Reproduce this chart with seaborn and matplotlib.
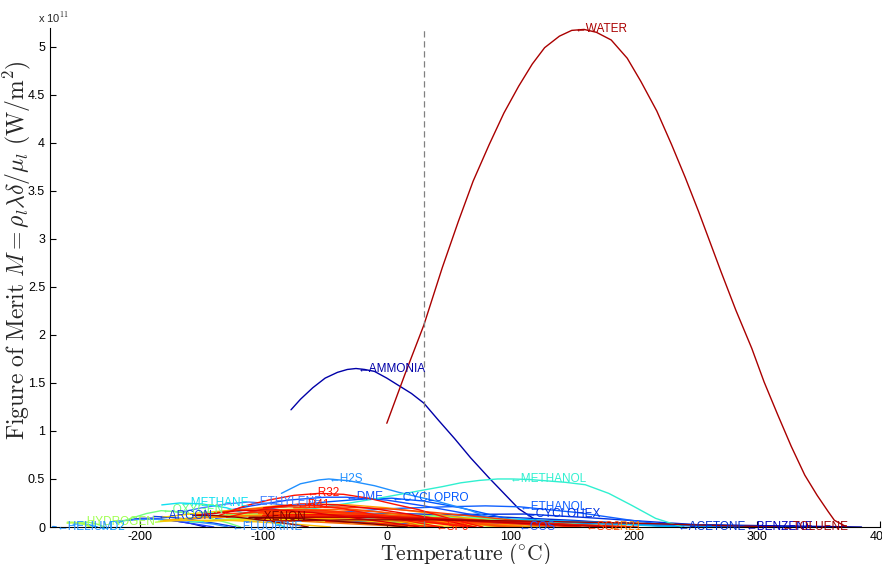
import numpy as np
import pandas as pd
import seaborn as sns
import matplotlib
matplotlib.use('Agg')
import matplotlib.pyplot as plt
from matplotlib.ticker import FormatStrFormatter

# Figure of merit M in units of 1e11 W/m^2, temperature in deg C
water_T = [0.01, 15, 30, 45, 58, 70, 83, 95, 107, 118, 128, 140, 150, 160, 170, 182, 195,
           206, 219, 231, 242, 253, 262, 271, 283, 296, 306, 317, 328, 339, 349, 358, 363, 373]
water_M = [1.08, 1.60, 2.10, 2.70, 3.18, 3.60, 3.98, 4.31, 4.59, 4.82, 4.99, 5.11, 5.17, 5.18,
           5.15, 5.07, 4.88, 4.64, 4.33, 3.98, 3.64, 3.28, 2.97, 2.66, 2.26, 1.86, 1.51, 1.17,
           0.84, 0.54, 0.33, 0.16, 0.07, 0.0]

ammonia_T = [-77.7, -70, -60, -50, -40, -32, -25, -18, -10, 0, 10, 20, 30, 42, 55, 68, 83, 95, 107, 120, 132.3]
ammonia_M = [1.22, 1.33, 1.45, 1.55, 1.61, 1.64, 1.65, 1.64, 1.62, 1.55, 1.47, 1.39, 1.29, 1.11, 0.92, 0.72,
             0.51, 0.35, 0.19, 0.08, 0.0]

methanol_T = [-97.5, -60, -30, -6.5, 15, 30, 45, 60, 75, 90, 101, 115, 130, 145, 161, 180, 198, 218, 240]
methanol_M = [0.12, 0.19, 0.25, 0.30, 0.35, 0.385, 0.42, 0.46, 0.485, 0.50, 0.50, 0.495, 0.48, 0.465, 0.44,
              0.35, 0.23, 0.09, 0.0]

h2s_T = [-85.5, -70, -55, -47, -30, -10, 10, 40, 66, 85, 100]
h2s_M = [0.35, 0.45, 0.49, 0.50, 0.48, 0.43, 0.36, 0.27, 0.18, 0.09, 0.0]

ethanol_T = [-114, -80, -40, 0, 47, 80, 108, 155, 198, 241]
ethanol_M = [0.05, 0.10, 0.15, 0.19, 0.21, 0.22, 0.21, 0.15, 0.07, 0.0]

dme_T = [-141.5, -110, -80, -50, -33, 0, 30, 60, 90, 127]
dme_M = [0.14, 0.22, 0.28, 0.31, 0.31, 0.28, 0.22, 0.15, 0.08, 0.0]

cyclopro_T = [-127.5, -90, -50, -20, 4, 30, 60, 90, 125]
cyclopro_M = [0.12, 0.20, 0.26, 0.29, 0.30, 0.27, 0.20, 0.11, 0.0]

r32_T = [-136, -115, -96, -75, -55, -35, -15, 5, 26, 45, 62, 78]
r32_M = [0.12, 0.22, 0.28, 0.33, 0.35, 0.34, 0.30, 0.24, 0.18, 0.11, 0.05, 0.0]

r41_T = [-130, -110, -90, -73, -55, -35, -15, 10, 44]
r41_M = [0.10, 0.16, 0.21, 0.23, 0.22, 0.19, 0.14, 0.08, 0.0]

xenon_T = [-111.8, -95, -75, -50, -25, 0, 16.6]
xenon_M = [0.10, 0.10, 0.09, 0.07, 0.045, 0.02, 0.0]

oxygen_T = [-218.8, -205, -195, -183, -170, -155, -140, -128, -118.6]
oxygen_M = [0.04, 0.10, 0.14, 0.17, 0.16, 0.13, 0.08, 0.04, 0.0]

hydrogen_T = [-259.2, -255, -250, -245, -240]
hydrogen_M = [0.05, 0.05, 0.045, 0.03, 0.0]

parahyd_T = [-259.3, -252, -246, -240.2]
parahyd_M = [0.04, 0.045, 0.03, 0.0]

helium_T = [-271, -269.5, -268]
helium_M = [0.005, 0.004, 0.0]

d2_T = [-254.4, -248, -242, -234.8]
d2_M = [0.03, 0.035, 0.025, 0.0]

neon_T = [-248.6, -242, -235, -228.7]
neon_M = [0.05, 0.05, 0.03, 0.0]

nitrogen_T = [-210, -200, -190, -175, -160, -147]
nitrogen_M = [0.07, 0.09, 0.09, 0.07, 0.04, 0.0]

argon_T = [-189.3, -175, -160, -140, -122.5]
argon_M = [0.11, 0.10, 0.08, 0.04, 0.0]

co_T = [-205, -190, -170, -150, -140.3]
co_M = [0.08, 0.09, 0.06, 0.02, 0.0]

fluorine_T = [-219.6, -200, -180, -160, -140, -129]
fluorine_M = [0.06, 0.08, 0.08, 0.06, 0.03, 0.0]

methane_T = [-182.5, -168, -150, -130, -110, -95, -82.6]
methane_M = [0.23, 0.25, 0.24, 0.20, 0.12, 0.06, 0.0]

ethylene_T = [-169, -150, -130, -112, -90, -60, -30, 0, 9.2]
ethylene_M = [0.15, 0.20, 0.24, 0.26, 0.24, 0.18, 0.10, 0.03, 0.0]

ethane_T = [-182.8, -150, -120, -90, -60, -30, 0, 32.2]
ethane_M = [0.10, 0.15, 0.18, 0.17, 0.14, 0.09, 0.04, 0.0]

propane_T = [-187.6, -150, -110, -70, -30, 10, 50, 96.7]
propane_M = [0.05, 0.10, 0.13, 0.14, 0.12, 0.09, 0.05, 0.0]

propylene_T = [-185.2, -140, -100, -60, -20, 20, 60, 91]
propylene_M = [0.06, 0.12, 0.15, 0.15, 0.13, 0.09, 0.04, 0.0]

isobutane_T = [-159.6, -120, -70, -20, 30, 80, 134.7]
isobutane_M = [0.05, 0.09, 0.12, 0.12, 0.10, 0.06, 0.0]

butane_T = [-138.3, -90, -40, 10, 60, 110, 152]
butane_M = [0.07, 0.11, 0.13, 0.13, 0.10, 0.05, 0.0]

pentane_T = [-129.7, -80, -30, 20, 70, 130, 196.6]
pentane_M = [0.07, 0.10, 0.12, 0.12, 0.10, 0.05, 0.0]

hexane_T = [-95.3, -50, 0, 50, 110, 170, 234.7]
hexane_M = [0.08, 0.10, 0.11, 0.10, 0.08, 0.04, 0.0]

heptane_T = [-90.6, -40, 20, 80, 150, 210, 267]
heptane_M = [0.07, 0.08, 0.09, 0.08, 0.06, 0.03, 0.0]

octane_T = [-56.8, 0, 60, 130, 200, 250, 296]
octane_M = [0.06, 0.07, 0.07, 0.06, 0.04, 0.02, 0.0]

nonane_T = [-53.5, 20, 100, 180, 250, 321]
nonane_M = [0.05, 0.06, 0.055, 0.04, 0.02, 0.0]

decane_T = [-29.6, 40, 120, 200, 280, 344.5]
decane_M = [0.05, 0.05, 0.045, 0.03, 0.015, 0.0]

dodecane_T = [-9.6, 60, 140, 220, 300, 385]
dodecane_M = [0.04, 0.045, 0.04, 0.03, 0.015, 0.0]

acetone_T = [-94.7, -50, 0, 50, 100, 150, 200, 235]
acetone_M = [0.10, 0.13, 0.14, 0.13, 0.10, 0.07, 0.03, 0.0]

benzene_T = [5.5, 60, 120, 180, 240, 289]
benzene_M = [0.08, 0.08, 0.065, 0.045, 0.02, 0.0]

toluene_T = [-95, -30, 40, 120, 200, 270, 318.6]
toluene_M = [0.06, 0.075, 0.075, 0.06, 0.04, 0.015, 0.0]

cyclohex_T = [6.5, 50, 112, 160, 220, 280.5]
cyclohex_M = [0.11, 0.13, 0.135, 0.10, 0.05, 0.0]

cos_T = [-138.8, -100, -60, -20, 20, 60, 105.6]
cos_M = [0.09, 0.14, 0.16, 0.15, 0.11, 0.06, 0.0]

so2_T = [-75.5, -40, 0, 40, 80, 120, 157.5]
so2_M = [0.20, 0.21, 0.19, 0.15, 0.10, 0.05, 0.0]

r21_T = [-135, -90, -40, 10, 60, 120, 178.3]
r21_M = [0.10, 0.13, 0.13, 0.11, 0.08, 0.04, 0.0]

sf6_T = [-49.6, -30, -10, 10, 30, 45.6]
sf6_M = [0.06, 0.05, 0.04, 0.025, 0.01, 0.0]

r134a_T = [-103.3, -70, -40, -10, 20, 50, 80, 101]
r134a_M = [0.15, 0.18, 0.18, 0.16, 0.12, 0.08, 0.03, 0.0]

r125_T = [-100.6, -70, -40, -10, 20, 45, 66]
r125_M = [0.12, 0.13, 0.12, 0.10, 0.07, 0.03, 0.0]

r143a_T = [-111.8, -80, -50, -20, 10, 40, 72.7]
r143a_M = [0.15, 0.18, 0.17, 0.14, 0.10, 0.05, 0.0]

r152a_T = [-118.6, -90, -60, -30, 0, 30, 60, 90, 113.3]
r152a_M = [0.18, 0.22, 0.24, 0.23, 0.20, 0.15, 0.10, 0.05, 0.0]

r22_T = [-157.4, -120, -80, -40, 0, 40, 70, 96.1]
r22_M = [0.12, 0.18, 0.21, 0.20, 0.15, 0.09, 0.04, 0.0]

r23_T = [-155.1, -120, -90, -60, -30, 0, 26.1]
r23_M = [0.12, 0.17, 0.18, 0.15, 0.10, 0.05, 0.0]

r13_T = [-181, -150, -120, -90, -60, -20, 28.9]
r13_M = [0.07, 0.10, 0.12, 0.11, 0.08, 0.04, 0.0]

r14_T = [-183.6, -160, -130, -100, -70, -45.6]
r14_M = [0.06, 0.07, 0.07, 0.05, 0.025, 0.0]

r116_T = [-100, -70, -40, -10, 19.9]
r116_M = [0.07, 0.06, 0.04, 0.02, 0.0]

r11_T = [-111, -60, -10, 40, 100, 150, 198]
r11_M = [0.10, 0.11, 0.10, 0.08, 0.05, 0.025, 0.0]

r12_T = [-157, -110, -60, -10, 40, 80, 112]
r12_M = [0.09, 0.12, 0.12, 0.10, 0.06, 0.03, 0.0]

r123_T = [-107, -60, -10, 40, 90, 140, 183.7]
r123_M = [0.09, 0.10, 0.10, 0.08, 0.05, 0.02, 0.0]

r245fa_T = [-102, -60, -20, 20, 60, 110, 154]
r245fa_M = [0.10, 0.11, 0.11, 0.09, 0.06, 0.03, 0.0]

r227ea_T = [-126.8, -90, -50, -10, 30, 70, 101.8]
r227ea_M = [0.07, 0.08, 0.08, 0.06, 0.04, 0.02, 0.0]

r218_T = [-147.6, -100, -50, 0, 71.9]
r218_M = [0.06, 0.08, 0.06, 0.03, 0.0]

co2_T = [-56.6, -40, -20, 0, 15, 31]
co2_M = [0.17, 0.16, 0.13, 0.09, 0.05, 0.0]

n2o_T = [-90.8, -70, -40, -10, 15, 36.4]
n2o_M = [0.18, 0.19, 0.16, 0.11, 0.06, 0.0]

krypton_T = [-157.4, -140, -120, -100, -80, -63.7]
krypton_M = [0.12, 0.12, 0.10, 0.07, 0.035, 0.0]

r1234yf_T = [-53, -20, 10, 40, 70, 94.7]
r1234yf_M = [0.12, 0.11, 0.09, 0.06, 0.03, 0.0]

r404a_T = [-100, -70, -40, -10, 20, 50, 72]
r404a_M = [0.14, 0.16, 0.15, 0.12, 0.08, 0.03, 0.0]

r410a_T = [-100, -70, -40, -10, 20, 50, 71]
r410a_M = [0.20, 0.24, 0.23, 0.19, 0.13, 0.06, 0.0]

r124_T = [-100, -50, 0, 50, 100, 122]
r124_M = [0.10, 0.11, 0.09, 0.06, 0.02, 0.0]

r141b_T = [-100, -50, 0, 60, 120, 180, 204]
r141b_M = [0.12, 0.13, 0.11, 0.08, 0.045, 0.01, 0.0]

r142b_T = [-130, -80, -30, 20, 70, 110, 137]
r142b_M = [0.14, 0.16, 0.15, 0.11, 0.07, 0.03, 0.0]

r236fa_T = [-93, -50, 0, 50, 100, 124.9]
r236fa_M = [0.09, 0.09, 0.07, 0.045, 0.015, 0.0]

r1234ze_T = [-104, -60, -20, 20, 60, 109]
r1234ze_M = [0.14, 0.15, 0.13, 0.10, 0.05, 0.0]

# labelled fluids: where the label arrow points
label_names = ['WATER', 'AMMONIA', 'METHANOL', 'H2S', 'R32', 'DME', 'CYCLOPRO', 'ETHANOL',
               'CYCLOHEX', 'METHANE', 'ETHYLENE', 'R41', 'XENON', 'OXYGEN', 'ARGON',
               'HYDROGEN', 'HELIUM', 'D2', 'FLUORINE', 'SF6', 'COS', 'SO2', 'R21',
               'ACETONE', 'BENZENE', 'TOLUENE']
label_T = [152, -24, 100, -47, -65, -33, 4, 108, 112, -168, -112, -73, -109, -183, -186,
           -252, -268, -234, -126, 40, 107, 161, 180, 236, 291, 320]
label_M = [5.18, 1.65, 0.50, 0.50, 0.35, 0.31, 0.30, 0.21, 0.135, 0.25, 0.26, 0.23, 0.10,
           0.18, 0.11, 0.05, 0.0, 0.0, 0.0, 0.0, 0.0, 0.0, 0.0, 0.0, 0.0, 0.0]

x_ticks = [-200, -100, 0, 100, 200, 300, 400]
y_ticks = [0, 0.5, 1, 1.5, 2, 2.5, 3, 3.5, 4, 4.5, 5]
T_AMBIENT = 30

# drawing order and colours (jet-like, blue first, red on top)
COLORS = {
    'DODECANE': '#0000A0', 'AMMONIA': '#0000A8', 'BENZENE': '#0000C0', 'NITROGEN': '#0010B0',
    'DECANE': '#0020C0', 'ACETONE': '#0030D0', 'CYCLOHEX': '#0030E0', 'NONANE': '#0040E0',
    'CO': '#2040FF', 'ARGON': '#1040E0', 'DME': '#1050FF', 'CYCLOPRO': '#0058FF',
    'ETHANOL': '#1060FF', 'COS': '#2060FF', 'OCTANE': '#0070FF', 'ETHYLENE': '#4080FF',
    'HEPTANE': '#0090FF', 'H2S': '#2090FF', 'FLUORINE': '#3090FF', 'HELIUM': '#2090FF',
    'D2': '#10A0FF', 'HEXANE': '#00C0FF', 'METHANE': '#10E0F0', 'METHANOL': '#30F0D0',
    'PENTANE': '#40FFC0', 'ISOBUTANE': '#60FF90', 'OXYGEN': '#70FF80', 'NEON': '#90FF60',
    'PROPYLENE': '#80FF70', 'BUTANE': '#A0FF50', 'HYDROGEN': '#A0FF50', 'PARAHYD': '#C0FF40',
    'PROPANE': '#C0FF40', 'N2O': '#B0FF40', 'R227EA': '#F0E000', 'ETHANE': '#FFD000',
    'R218': '#FFD800', 'R14': '#FFC000', 'R236FA': '#FFB800', 'R13': '#FFB000',
    'R152A': '#FFA000', 'R124': '#FF9800', 'R12': '#FF9000', 'R1234YF': '#FF8800',
    'R21': '#FF8000', 'R116': '#FF7000', 'CO2': '#FF6800', 'R1234ZE': '#FF6400',
    'R134A': '#FF6000', 'R22': '#FF5000', 'R142B': '#FF4800', 'SO2': '#FF4000',
    'R404A': '#FF3800', 'R143A': '#FF3000', 'R245FA': '#FF2800', 'SF6': '#FF2000',
    'R11': '#E02000', 'R141B': '#E81000', 'R41': '#FF1800', 'R125': '#FF1000',
    'R410A': '#F00000', 'R32': '#FF1000', 'R23': '#E00000', 'R123': '#C00000',
    'KRYPTON': '#900000', 'XENON': '#800000', 'TOLUENE': '#A00000', 'WATER': '#AA0000',
}

curves = {
    'DODECANE': (dodecane_T, dodecane_M), 'AMMONIA': (ammonia_T, ammonia_M),
    'BENZENE': (benzene_T, benzene_M), 'NITROGEN': (nitrogen_T, nitrogen_M),
    'DECANE': (decane_T, decane_M), 'ACETONE': (acetone_T, acetone_M),
    'CYCLOHEX': (cyclohex_T, cyclohex_M), 'NONANE': (nonane_T, nonane_M),
    'CO': (co_T, co_M), 'ARGON': (argon_T, argon_M), 'DME': (dme_T, dme_M),
    'CYCLOPRO': (cyclopro_T, cyclopro_M), 'ETHANOL': (ethanol_T, ethanol_M),
    'COS': (cos_T, cos_M), 'OCTANE': (octane_T, octane_M),
    'ETHYLENE': (ethylene_T, ethylene_M), 'HEPTANE': (heptane_T, heptane_M),
    'H2S': (h2s_T, h2s_M), 'FLUORINE': (fluorine_T, fluorine_M),
    'HELIUM': (helium_T, helium_M), 'D2': (d2_T, d2_M), 'HEXANE': (hexane_T, hexane_M),
    'METHANE': (methane_T, methane_M), 'METHANOL': (methanol_T, methanol_M),
    'PENTANE': (pentane_T, pentane_M), 'ISOBUTANE': (isobutane_T, isobutane_M),
    'OXYGEN': (oxygen_T, oxygen_M), 'NEON': (neon_T, neon_M),
    'PROPYLENE': (propylene_T, propylene_M), 'BUTANE': (butane_T, butane_M),
    'HYDROGEN': (hydrogen_T, hydrogen_M), 'PARAHYD': (parahyd_T, parahyd_M),
    'PROPANE': (propane_T, propane_M), 'N2O': (n2o_T, n2o_M),
    'R227EA': (r227ea_T, r227ea_M), 'ETHANE': (ethane_T, ethane_M),
    'R218': (r218_T, r218_M), 'R14': (r14_T, r14_M), 'R236FA': (r236fa_T, r236fa_M),
    'R13': (r13_T, r13_M), 'R152A': (r152a_T, r152a_M), 'R124': (r124_T, r124_M),
    'R12': (r12_T, r12_M), 'R1234YF': (r1234yf_T, r1234yf_M),
    'R21': (r21_T, r21_M), 'R116': (r116_T, r116_M), 'CO2': (co2_T, co2_M),
    'R1234ZE': (r1234ze_T, r1234ze_M), 'R134A': (r134a_T, r134a_M), 'R22': (r22_T, r22_M),
    'R142B': (r142b_T, r142b_M), 'SO2': (so2_T, so2_M), 'R404A': (r404a_T, r404a_M),
    'R143A': (r143a_T, r143a_M), 'R245FA': (r245fa_T, r245fa_M), 'SF6': (sf6_T, sf6_M),
    'R11': (r11_T, r11_M), 'R141B': (r141b_T, r141b_M), 'R41': (r41_T, r41_M),
    'R125': (r125_T, r125_M), 'R410A': (r410a_T, r410a_M),
    'R32': (r32_T, r32_M), 'R23': (r23_T, r23_M), 'R123': (r123_T, r123_M),
    'KRYPTON': (krypton_T, krypton_M), 'XENON': (xenon_T, xenon_M),
    'TOLUENE': (toluene_T, toluene_M), 'WATER': (water_T, water_M),
}


def main():
    sns.set_style('ticks', {'xtick.direction': 'in', 'ytick.direction': 'in'})
    plt.rcParams['font.family'] = ['Liberation Sans', 'DejaVu Sans']
    plt.rcParams['mathtext.fontset'] = 'cm'
    plt.rcParams['axes.unicode_minus'] = False

    rows = []
    for name, (t, m) in curves.items():
        for ti, mi in zip(t, m):
            rows.append([name, ti, mi])
    df = pd.DataFrame(rows, columns=['fluid', 'T', 'M'])

    fig = plt.figure(figsize=(8.82, 5.64), dpi=100)
    ax = fig.add_axes([50 / 882, 37 / 564, 830 / 882, 499.5 / 564])

    sns.lineplot(data=df, x='T', y='M', hue='fluid', hue_order=list(curves.keys()),
                 palette=COLORS, estimator=None, sort=False, legend=False,
                 linewidth=1.0, ax=ax)

    ax.axvline(T_AMBIENT, color='0.5', ls=(0, (5, 3)), lw=0.9)

    for name, t, m in zip(label_names, label_T, label_M):
        ax.text(t, m, '\u2190' + name, color=COLORS[name], fontsize=8.5,
                ha='left', va='center')

    ax.set_xlim(-273.15, 400)
    ax.set_ylim(0, 5.2)
    ax.set_xticks(x_ticks)
    ax.set_yticks(y_ticks)
    ax.yaxis.set_major_formatter(FormatStrFormatter('%g'))
    ax.tick_params(labelsize=9, length=4, width=0.8, colors='black')
    ax.tick_params(axis='x', pad=3)
    sns.despine(ax=ax)
    for s in ['left', 'bottom']:
        ax.spines[s].set_linewidth(0.8)
        ax.spines[s].set_color('black')

    ax.set_xlabel(r'$\mathrm{Temperature\ (^{\circ}C)}$', fontsize=15.5, va='top')
    ax.xaxis.set_label_coords(0.5, -0.029)
    ax.set_ylabel(r'$\mathrm{Figure\ of\ Merit}\ M = \rho_l\lambda\delta/\mu_l\ (\mathrm{W/m^2})$',
                  fontsize=17)
    ax.yaxis.set_label_coords(-0.021, 0.555)
    fig.text(38 / 882, 1 - 18 / 564, r'x 10$^{11}$', fontsize=8, ha='left', va='center')

    fig.savefig('out.png', dpi=100)


if __name__ == '__main__':
    main()
